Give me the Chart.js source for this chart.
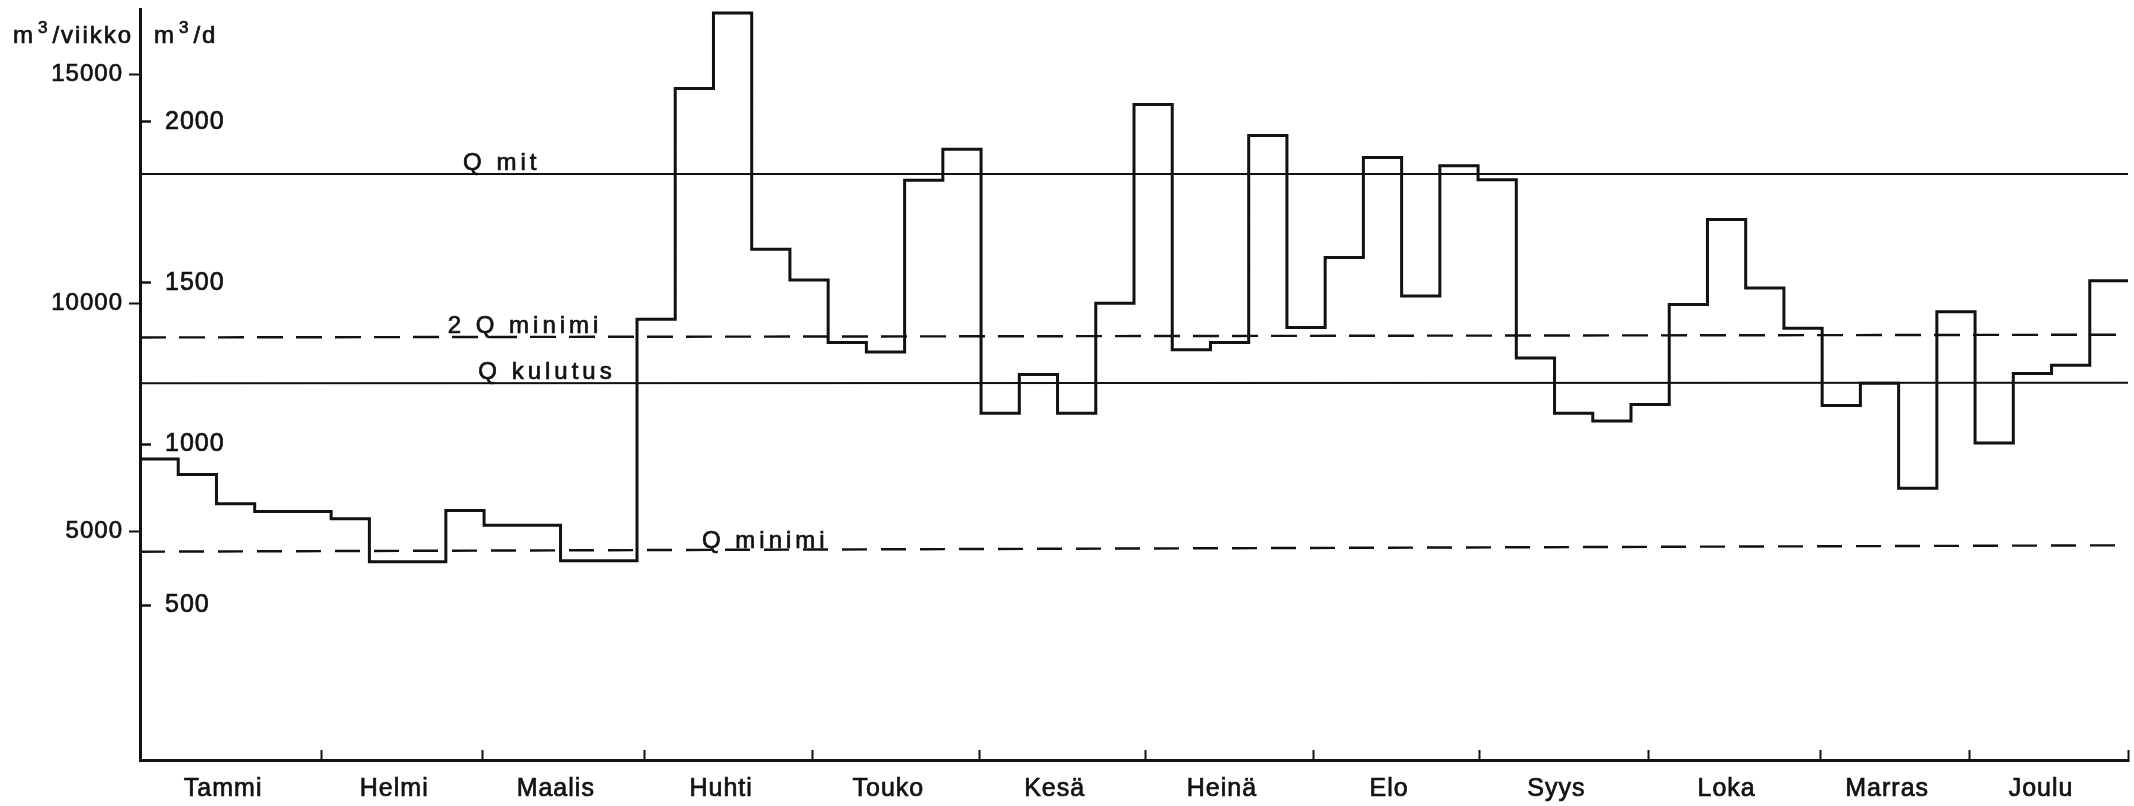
<!DOCTYPE html>
<html>
<head>
<meta charset="utf-8">
<script src="https://cdn.jsdelivr.net/npm/chart.js@4.4.1/dist/chart.umd.min.js"></script>
<style>
    html, body { margin: 0; padding: 0; background: #fff; }
    #wrap { width: 2134px; height: 806px; position: relative; }
</style>
</head>
<body>
<div id="wrap"><canvas id="flowChart"></canvas></div>
<script>
// weekly flow, m3/viikko (52 weeks)
const weeklyFlow = [
    6590, 6250, 5610, 5440, 5440, 5280, 4340, 4340, 5460, 5140, 5140, 4360, 4360,
    9650, 14700, 16350, 11180, 10510, 9140, 8930, 12690, 13370, 7590, 8440, 7590,
    10000, 14350, 8980, 9140, 13670, 9470, 11000, 13190, 10160, 13010, 12700,
    8800, 7590, 7420, 7780, 9970, 11830, 10330, 9450, 7760, 8250, 5950, 9810,
    6940, 8460, 8640, 10490
];

const months = ["Tammi", "Helmi", "Maalis", "Huhti", "Touko", "Kesä",
    "Heinä", "Elo", "Syys", "Loka", "Marras", "Joulu"];
// month boundaries in weeks, as drawn on the axis
const monthEdges = [0, 4.75, 8.95, 13.2, 17.6, 21.95, 26.3, 30.7, 35.05, 39.45, 43.95, 47.85, 52];

const weekTicks = [5000, 10000, 15000];   // m3/viikko
const dayTicks = [500, 1000, 1500, 2000]; // m3/d

// reference levels (start, end of year)
const qMit = [12830, 12830];
const twoQMinimi = [9250, 9310];
const qKulutus = [8250, 8260];
const qMinimi = [4560, 4700];

const FONT = "'Liberation Sans', sans-serif";
const INK = "#111";

function refLine(vals, dash, width) {
    return {
        type: "line",
        data: [{ x: 0, y: vals[0] }, { x: 52, y: vals[1] }],
        borderColor: INK,
        borderWidth: width,
        borderDash: dash,
        pointRadius: 0,
        fill: false,
    };
}

// no extra room for end labels, the plot area is set by hand
function noPad(scale) {
    scale.paddingTop = 0;
    scale.paddingBottom = 0;
    scale.paddingLeft = 0;
    scale.paddingRight = 0;
}

// step points: each week holds its value until the next week starts
const stepPoints = weeklyFlow.map((v, i) => ({ x: i, y: v }));
stepPoints.push({ x: weeklyFlow.length, y: weeklyFlow[weeklyFlow.length - 1] });

// text along the reference lines + unit titles
const labelsPlugin = {
    id: "labelsPlugin",
    beforeDraw(chart) {
        chart.ctx.letterSpacing = "1px";
    },
    afterDatasetsDraw(chart) {
        const { ctx, scales: { x, y } } = chart;
        const items = [
            ["Q mit", 8.45, qMit[0]],
            ["2 Q minimi", 8.05, twoQMinimi[0]],
            ["Q kulutus", 8.85, qKulutus[0]],
            ["Q minimi", 14.7, qMinimi[0]],
        ];
        ctx.save();
        ctx.font = "24px " + FONT;
        ctx.letterSpacing = "4px";
        ctx.fillStyle = INK;
        ctx.strokeStyle = INK;
        ctx.lineWidth = 0.7;
        ctx.textAlign = "left";
        ctx.textBaseline = "alphabetic";
        items.forEach(function (it) {
            const px = x.getPixelForValue(it[1]);
            const py = y.getPixelForValue(it[2]) - 4;
            ctx.fillText(it[0], px, py);
            ctx.strokeText(it[0], px, py);
        });
        ctx.restore();
    },
    afterDraw(chart) {
        const { ctx, chartArea } = chart;
        function pieces(x0, yb, parts) {
            let cx = x0;
            parts.forEach(function (p) {
                ctx.font = p[1] + "px " + FONT;
                ctx.fillText(p[0], cx, yb - (p[2] || 0));
                ctx.strokeText(p[0], cx, yb - (p[2] || 0));
                cx += ctx.measureText(p[0]).width + 3;
            });
        }
        ctx.save();
        ctx.fillStyle = INK;
        ctx.strokeStyle = INK;
        ctx.lineWidth = 0.7;
        ctx.letterSpacing = "2px";
        ctx.textAlign = "left";
        ctx.textBaseline = "alphabetic";
        pieces(chartArea.left - 127, chartArea.top + 34, [["m", 24], ["3", 17, 10], ["/viikko", 24]]);
        pieces(chartArea.left + 14, chartArea.top + 34, [["m", 24], ["3", 17, 10], ["/d", 24]]);
        ctx.restore();
    },
};

document.addEventListener("DOMContentLoaded", function () {
    const ctx = document.getElementById("flowChart").getContext("2d");
    const tickFont = (size) => ({
        color: INK,
        font: { family: FONT, size: size },
        textStrokeColor: INK,
        textStrokeWidth: 0.7,
    });
    new Chart(ctx, {
        type: "line",
        data: {
            datasets: [
                {
                    label: "m3/viikko",
                    data: stepPoints,
                    stepped: true,
                    borderColor: INK,
                    borderWidth: 3,
                    borderJoinStyle: "miter",
                    pointRadius: 0,
                    fill: false,
                },
                refLine(qMit, [], 2),
                refLine(twoQMinimi, [26, 13], 2.4),
                refLine(qKulutus, [], 2),
                refLine(qMinimi, [25, 14], 2.4),
            ],
        },
        options: {
            responsive: true,
            maintainAspectRatio: false,
            animation: false,
            layout: { padding: { top: 9, right: 6, left: 0, bottom: 0 } },
            plugins: { legend: { display: false }, tooltip: { enabled: false } },
            scales: {
                x: {
                    type: "linear",
                    min: 0,
                    max: 52,
                    afterBuildTicks: function (scale) {
                        const t = monthEdges.map((v) => ({ value: v, edge: true }));
                        months.forEach(function (m, i) {
                            // names sit a little left of the month middle, as lettered
                            t.push({ value: (monthEdges[i] + monthEdges[i + 1]) / 2 - 0.2, name: m });
                        });
                        scale.ticks = t;
                    },
                    afterFit: function (scale) {
                        scale.height = 46;
                        noPad(scale);
                    },
                    border: { color: INK, width: 3 },
                    grid: {
                        drawOnChartArea: false,
                        tickLength: -10,
                        tickWidth: 2,
                        tickColor: (c) => (c.tick && c.tick.edge ? INK : "rgba(0,0,0,0)"),
                    },
                    ticks: Object.assign(tickFont(25), {
                        autoSkip: false,
                        maxRotation: 0,
                        padding: 24,
                        callback: (v, i, ticks) => ticks[i].name || "",
                    }),
                },
                y: {
                    type: "linear",
                    position: "left",
                    weight: 10,
                    min: 0,
                    max: 16440,
                    afterBuildTicks: function (scale) {
                        scale.ticks = weekTicks.map((v) => ({ value: v }));
                    },
                    afterFit: function (scale) {
                        scale.width = 140;
                        noPad(scale);
                    },
                    border: { color: INK, width: 3 },
                    grid: { drawOnChartArea: false, tickLength: 11, tickWidth: 2, tickColor: INK },
                    ticks: Object.assign(tickFont(24), {
                        padding: 6,
                        callback: (v) => String(v),
                    }),
                },
                y2: {
                    type: "linear",
                    position: "left",
                    weight: 0,
                    min: 20,
                    max: 2350,
                    afterBuildTicks: function (scale) {
                        scale.ticks = dayTicks.map((v) => ({ value: v }));
                    },
                    afterFit: function (scale) {
                        scale.width = 0;
                        noPad(scale);
                    },
                    border: { display: false },
                    grid: { drawOnChartArea: false, tickLength: -11, tickWidth: 2.5, tickColor: INK },
                    ticks: Object.assign(tickFont(25), {
                        mirror: true,
                        padding: 25,
                        callback: (v) => String(v),
                    }),
                },
            },
        },
        plugins: [labelsPlugin],
    });
});
</script>
</body>
</html>
